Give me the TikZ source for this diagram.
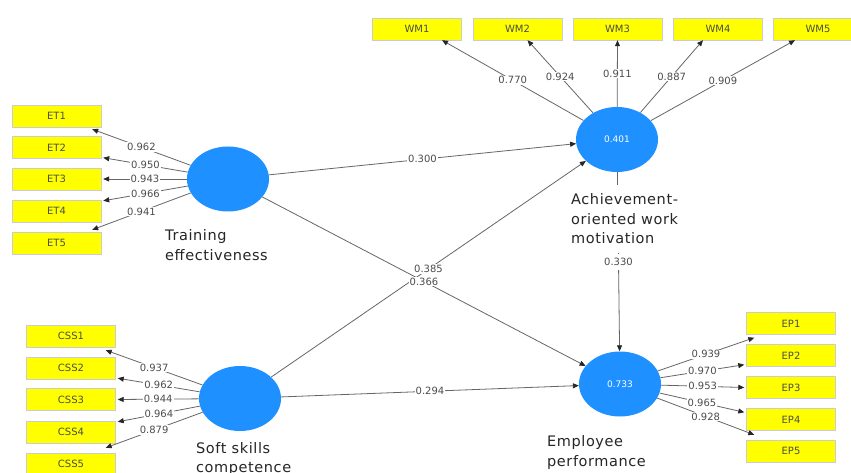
\documentclass[tikz,border=0pt]{standalone}
\usepackage{fontspec}
\setmainfont{DejaVu Sans}
\newfontfamily\latfont[LetterSpace=4]{DejaVu Sans}
\usetikzlibrary{arrows.meta,calc,shapes.geometric}
\definecolor{lvblue}{RGB}{30,144,255}
\definecolor{indyel}{RGB}{255,255,0}
\begin{document}
\begin{tikzpicture}[x=1pt,y=-1pt,
 ind/.style={rectangle,fill=indyel,draw=black!20,line width=0.4pt,minimum width=89pt,minimum height=22pt,inner sep=0pt,font=\fontsize{10}{11}\selectfont,text=black!70},
 lv/.style={ellipse,fill=lvblue,draw=none,minimum width=82pt,minimum height=65pt,inner sep=0pt,font=\fontsize{9}{10}\selectfont,text=white},
 conn/.style={draw=black!60,line width=0.8pt,-{Triangle[length=6pt,width=5pt,color=black!85]}},
 coef/.style={fill=white,inner sep=1pt,font=\fontsize{10}{11}\selectfont,text=black!70},
 lvlabel/.style={align=left,font=\latfont\fontsize{14.5}{19.5}\selectfont,text=black!85,inner sep=1pt}
]
\useasboundingbox (0,0) rectangle (851,473);
\clip (0,0) rectangle (851,473);
\fill[white] (0,0) rectangle (851,473);

% latent variables
\node[lv] (tr) at (228,179) {};
\node[lv] (ss) at (240,398.5) {};
\node[lv] (wm) at (617,139.5) {0.401};
\node[lv] (ep) at (620,384) {0.733};

% indicators ET
\node[ind] (et1) at (56.5,116) {ET1};
\node[ind] (et2) at (56.5,147.5) {ET2};
\node[ind] (et3) at (56.5,179) {ET3};
\node[ind] (et4) at (56.5,211) {ET4};
\node[ind] (et5) at (56.5,243) {ET5};
% indicators CSS
\node[ind] (css1) at (71,336) {CSS1};
\node[ind] (css2) at (71,368) {CSS2};
\node[ind] (css3) at (71,399.5) {CSS3};
\node[ind] (css4) at (71,432) {CSS4};
\node[ind] (css5) at (71,464) {CSS5};
% indicators WM
\node[ind] (wm1) at (417,29) {WM1};
\node[ind] (wm2) at (517.5,29) {WM2};
\node[ind] (wm3) at (617.5,29) {WM3};
\node[ind] (wm4) at (718,29) {WM4};
\node[ind] (wm5) at (818,29) {WM5};
% indicators EP
\node[ind] (ep1) at (791,323.5) {EP1};
\node[ind] (ep2) at (791,355.5) {EP2};
\node[ind] (ep3) at (791,387.5) {EP3};
\node[ind] (ep4) at (791,419.5) {EP4};
\node[ind] (ep5) at (791,451) {EP5};

% outer loadings ET
\draw[conn] (tr) -- node[coef]{0.962} ([xshift=-9pt,yshift=-2pt]et1.south east);
\draw[conn] (tr) -- node[coef]{0.950} ([xshift=2pt,yshift=1pt]et2.south east);
\draw[conn] (tr) -- node[coef]{0.943} ([xshift=2pt]et3.east);
\draw[conn] (tr) -- node[coef]{0.966} ([xshift=2pt,yshift=-1pt]et4.north east);
\draw[conn] (tr) -- node[coef]{0.941} ([xshift=-9pt,yshift=2pt]et5.north east);
% CSS
\draw[conn] (ss) -- node[coef]{0.937} ([xshift=-10pt,yshift=-3pt]css1.south east);
\draw[conn] (ss) -- node[coef]{0.962} ([xshift=2pt,yshift=1pt]css2.south east);
\draw[conn] (ss) -- node[coef]{0.944} ([xshift=2pt]css3.east);
\draw[conn] (ss) -- node[coef]{0.964} ([xshift=2pt,yshift=-1pt]css4.north east);
\draw[conn] (ss) -- node[coef]{0.879} ([xshift=-10pt,yshift=5pt]css5.north east);
% WM
\draw[conn] (wm) -- node[coef]{0.770} ([xshift=25pt]wm1.south);
\draw[conn] (wm) -- node[coef]{0.924} ([xshift=10pt]wm2.south);
\draw[conn] (wm) -- node[coef]{0.911} (wm3.south);
\draw[conn] (wm) -- node[coef]{0.887} ([xshift=-15pt]wm4.south);
\draw[conn] (wm) -- node[coef]{0.909} ([xshift=-23pt]wm5.south);
% EP
\draw[conn] (ep) -- node[coef]{0.939} ([xshift=8pt,yshift=-3pt]ep1.south west);
\draw[conn] (ep) -- node[coef]{0.970} ([xshift=-2pt,yshift=2pt]ep2.south west);
\draw[conn] (ep) -- node[coef]{0.953} ([xshift=-2pt]ep3.west);
\draw[conn] (ep) -- node[coef]{0.965} ([xshift=-2pt,yshift=-4pt]ep4.north west);
\draw[conn] (ep) -- node[coef]{0.928} ([xshift=8pt,yshift=5pt]ep5.north west);

% inner model
\draw[conn] (tr) -- node[coef]{0.300} (wm);
\draw[conn] (ss) -- node[coef]{0.385} (wm);
\draw[conn] (tr) -- node[coef]{0.366} (ep);
\draw[conn] (ss) -- node[coef]{0.294} (ep);
\draw[conn] (wm) -- node[coef,inner ysep=4pt]{0.330} (ep);

% latent labels
\node[lvlabel,anchor=west] (trl) at (164,245) {Training\\effectiveness};
\node[lvlabel,anchor=west] (ssl) at (195,459) {Soft skills\\competence};
\node[lvlabel,anchor=west,fill=white,inner ysep=9pt] (wml) at (570,219) {Achievement-\\oriented work\\motivation};
\node[lvlabel,anchor=west] (epl) at (546,452.5) {Employee\\performance};
\end{tikzpicture}
\end{document}
